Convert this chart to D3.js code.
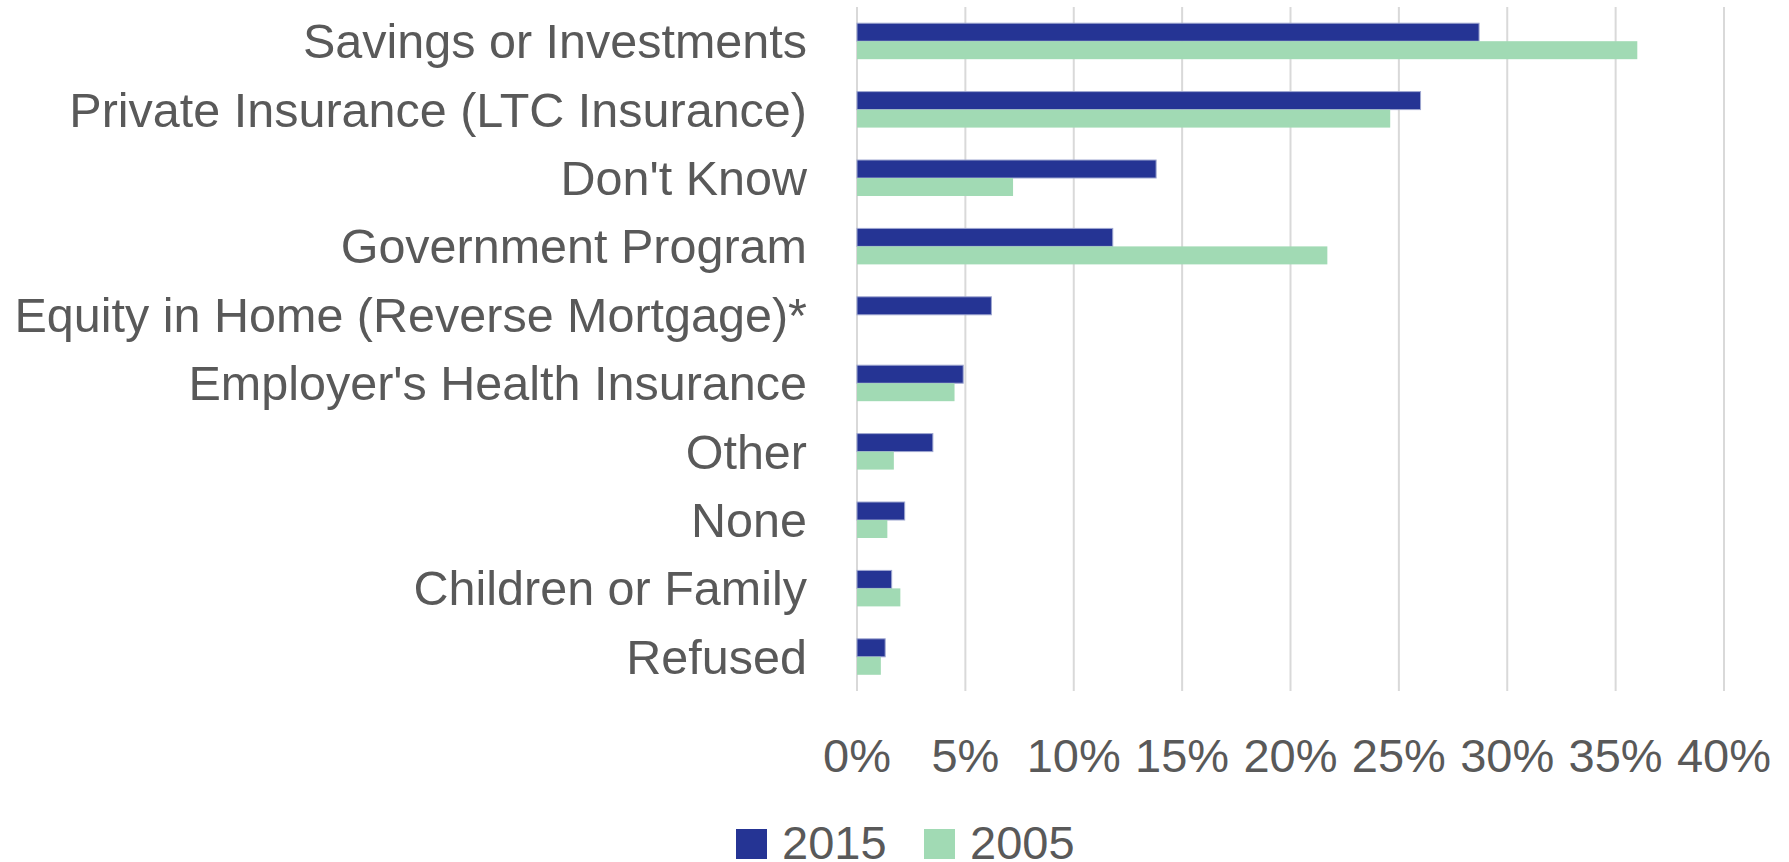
<!DOCTYPE html>
<html>
<head>
<meta charset="utf-8">
<script src="https://cdn.jsdelivr.net/npm/d3@7"></script>
<style>
  html, body { margin: 0; padding: 0; background: #fff; overflow: hidden; }
  svg { display: block; }
</style>
</head>
<body>
<svg id="chart" width="1789" height="862"></svg>
<script>
const categories = [
  "Savings or Investments",
  "Private Insurance (LTC Insurance)",
  "Don't Know",
  "Government Program",
  "Equity in Home (Reverse Mortgage)*",
  "Employer's Health Insurance",
  "Other",
  "None",
  "Children or Family",
  "Refused"
];
const seriesNames = ["2015", "2005"];
const values2015 = [0.287, 0.260, 0.138, 0.118, 0.062, 0.049, 0.035, 0.022, 0.016, 0.013];
const values2005 = [0.360, 0.246, 0.072, 0.217, null, 0.045, 0.017, 0.014, 0.020, 0.011];
const tickValues = [0, 0.05, 0.10, 0.15, 0.20, 0.25, 0.30, 0.35, 0.40];
const colors = ["#253494", "#a1dab4"];

const FONT = "'Liberation Sans Narrow', 'Liberation Sans', Arial, sans-serif";
const svg = d3.select("#chart");

const plot = { left: 857, right: 1724, top: 7, bottom: 691 };

const x = d3.scaleLinear().domain([0, 0.4]).range([plot.left, plot.right]);
const y = d3.scaleBand().domain(categories).range([plot.top, plot.bottom])
  .paddingInner(0.474).paddingOuter(0.237);
const ySub = d3.scaleBand().domain(seriesNames).range([0, y.bandwidth()]);

// gridlines
svg.append("g").selectAll("line").data(tickValues).join("line")
  .attr("x1", d => x(d)).attr("x2", d => x(d))
  .attr("y1", plot.top).attr("y2", plot.bottom)
  .attr("stroke", "#d9d9d9").attr("stroke-width", 2);

// bars
const rows = categories.map((c, i) => ({ cat: c, vals: [values2015[i], values2005[i]] }));
const g = svg.append("g");
rows.forEach(r => {
  r.vals.forEach((v, k) => {
    if (v == null) return;
    g.append("rect")
      .attr("x", x(0))
      .attr("y", y(r.cat) + ySub(seriesNames[k]))
      .attr("width", x(v) - x(0))
      .attr("height", ySub.bandwidth())
      .attr("fill", colors[k])
      .attr("stroke", k === 0 ? "#9ea6d0" : "none")
      .attr("stroke-width", 1);
  });
});

// category labels
const catG = svg.append("g");
catG.selectAll("text").data(categories).join("text")
  .attr("x", 807)
  .attr("y", d => y(d) + y.bandwidth() / 2 + 17)
  .attr("text-anchor", "end")
  .attr("font-family", FONT)
  .attr("font-size", 48.5)
  .attr("fill", "#595959")
  .text(d => d);

// x-axis tick labels
const fmt = d3.format(".0%");
svg.append("g").selectAll("text").data(tickValues).join("text")
  .attr("x", d => x(d))
  .attr("y", 772)
  .attr("text-anchor", "middle")
  .attr("font-family", FONT)
  .attr("font-size", 47)
  .attr("fill", "#595959")
  .text(d => fmt(d));

// legend
const legendX = [736, 924];
const leg = svg.append("g");
seriesNames.forEach((s, k) => {
  leg.append("rect").attr("x", legendX[k]).attr("y", 829).attr("width", 31).attr("height", 30).attr("fill", colors[k]);
  leg.append("text").attr("x", legendX[k] + 46).attr("y", 859)
    .attr("font-family", FONT).attr("font-size", 47).attr("fill", "#595959").text(s);
});
</script>
</body>
</html>
